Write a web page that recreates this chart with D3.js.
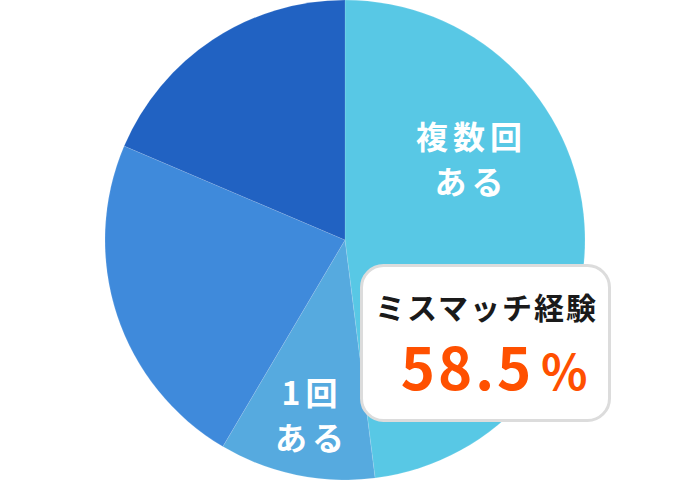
<!DOCTYPE html>
<html>
<head>
<meta charset="utf-8">
<script src="https://cdn.jsdelivr.net/npm/d3@7"></script>
<style>
  html, body { margin: 0; padding: 0; background: #fff; }
  svg { display: block; }
  text { font-family: "Noto Sans CJK JP", "Noto Sans", sans-serif; }
</style>
</head>
<body>
<svg id="chart" width="690" height="480"></svg>
<script>
// 回答の内訳（%）
const categories = ['複数回ある', '1回ある', 'ない', 'わからない']
const values = [48.0, 10.5, 22.9, 18.6]
const colors = ['#58c8e5', '#56aadf', '#3f8adb', '#2162c2']
const sliceLabels = [['複数回', 'ある'], ['1回', 'ある'], null, null]
const calloutTitle = 'ミスマッチ経験'
const calloutValue = '58.5'
const calloutUnit = '％'

const width = 690
const height = 480
const cx = 345
const cy = 240
const radius = 240

// ラベルの位置（スライス内の角度割合・半径割合）
const labelPos = [
  {t: 0.325, r: 0.62},
  {t: 0.5, r: 0.74},
]

const svg = d3.select('#chart')

const pie = d3.pie()
  .value(d => d.value)
  .sort(null)

const arcs = pie(categories.map((c, i) => ({name: c, value: values[i]})))

const arc = d3.arc().innerRadius(0).outerRadius(radius)

const g = svg.append('g').attr('transform', `translate(${cx},${cy})`)

g.selectAll('path')
  .data(arcs)
  .join('path')
  .attr('d', arc)
  .attr('fill', (d, i) => colors[i])
  .attr('stroke', '#ffffff')
  .attr('stroke-opacity', 0.2)
  .attr('stroke-width', 0.6)

// スライスのラベル
arcs.forEach((d, i) => {
  const lines = sliceLabels[i]
  if (!lines) return
  const p = labelPos[i]
  const a = d.startAngle + (d.endAngle - d.startAngle) * p.t
  const r = radius * p.r
  const x = Math.sin(a) * r
  const y = -Math.cos(a) * r
  const t = g.append('text')
    .attr('text-anchor', 'middle')
    .attr('fill', '#ffffff')
    .attr('font-size', 32)
    .attr('font-weight', 700)
    .attr('letter-spacing', 5)
  lines.forEach((line, j) => {
    t.append('tspan')
      .attr('x', x + 3)
      .attr('y', y + (j - (lines.length - 1) / 2) * 45)
      .attr('dominant-baseline', 'central')
      .text(line)
  })
})

// 吹き出し
const box = {x: 361.5, y: 265.5, w: 248, h: 155}
const callout = svg.append('g')

callout.append('rect')
  .attr('x', box.x)
  .attr('y', box.y)
  .attr('width', box.w)
  .attr('height', box.h)
  .attr('rx', 22)
  .attr('fill', '#ffffff')
  .attr('stroke', '#dcdcdc')
  .attr('stroke-width', 3)

callout.append('text')
  .attr('x', box.x + box.w / 2 + 1)
  .attr('y', 306)
  .attr('text-anchor', 'middle')
  .attr('dominant-baseline', 'central')
  .attr('font-size', 30)
  .attr('font-weight', 700)
  .attr('letter-spacing', 2)
  .attr('fill', '#1a1a1a')
  .text(calloutTitle)

const val = callout.append('text')
  .attr('x', box.x + box.w / 2 + 9)
  .attr('y', 390)
  .attr('text-anchor', 'middle')
  .attr('fill', '#ff5000')
  .attr('font-weight', 700)

val.append('tspan')
  .attr('font-size', 58)
  .attr('letter-spacing', 3)
  .text(calloutValue)

val.append('tspan')
  .attr('font-size', 48)
  .attr('dx', 6)
  .text(calloutUnit)
</script>
</body>
</html>
